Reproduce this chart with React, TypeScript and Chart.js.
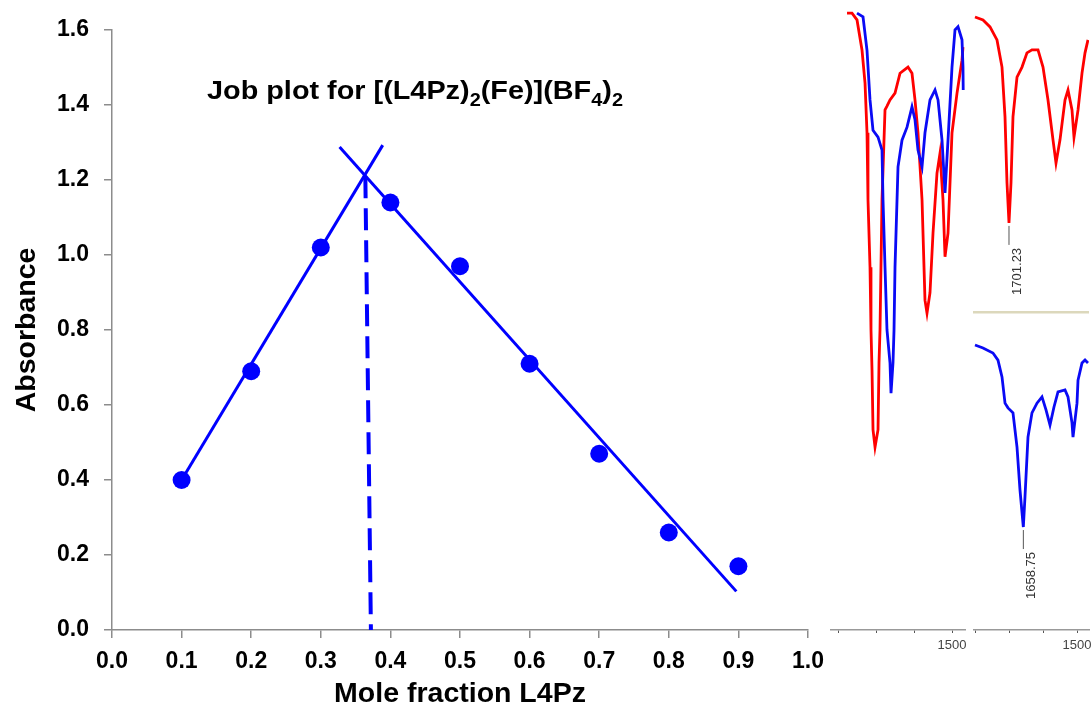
import React, { useEffect, useRef } from "react";
import { Chart, registerables } from "chart.js";

Chart.register(...registerables);

// ---------------- Job plot data ----------------
const moleFraction = [0.1, 0.2, 0.3, 0.4, 0.5, 0.6, 0.7, 0.8, 0.9];
const absorbance = [0.4, 0.69, 1.02, 1.14, 0.97, 0.71, 0.47, 0.26, 0.17];
const fitRiseX = [0.1, 0.389];
const fitRiseY = [0.4, 1.293];
const fitFallX = [0.327, 0.897];
const fitFallY = [1.288, 0.103];
const dropX = [0.364, 0.372];
const dropY = [1.21, 0.0];
const xTickValues = [0, 0.1, 0.2, 0.3, 0.4, 0.5, 0.6, 0.7, 0.8, 0.9, 1.0];
const yTickValues = [0, 0.2, 0.4, 0.6, 0.8, 1.0, 1.2, 1.4, 1.6];
const titleParts: [string, boolean][] = [
  ["Job plot for [(L4Pz)", false],
  ["2", true],
  ["(Fe)](BF", false],
  ["4", true],
  [")", false],
  ["2", true],
];
const xTitle = "Mole fraction L4Pz";
const yTitle = "Absorbance";

// ---------------- IR spectra data (wavenumber cm-1, %T) ----------------
const overlayRedWn = [1776.3, 1763.2, 1750.0, 1736.8, 1728.9, 1723.7, 1721.1, 1715.8, 1713.2, 1710.5, 1707.9, 1702.6, 1694.7, 1692.1, 1689.5, 1684.2, 1676.3, 1671.1, 1663.2, 1650.0, 1636.8, 1615.8, 1605.3, 1597.4, 1589.5, 1578.9, 1571.1, 1565.8, 1557.9, 1550.0, 1539.5, 1531.6, 1523.7, 1518.4, 1510.5, 1500.0, 1486.8, 1473.7, 1471.1];
const overlayRedT = [99.5, 99.5, 98.4, 93.5, 88.2, 80.2, 69.4, 58.5, 48.4, 41.9, 32.3, 29.5, 32.3, 43.1, 48.4, 69.4, 83.9, 84.5, 85.5, 86.6, 89.8, 90.8, 89.8, 85.5, 80.2, 69.4, 53.2, 51.1, 54.4, 64.0, 73.7, 76.9, 69.4, 60.2, 64.0, 80.2, 86.6, 91.9, 94.0];
const overlayBlueWn = [1750.0, 1734.2, 1723.7, 1715.8, 1707.9, 1694.7, 1684.2, 1681.6, 1676.3, 1671.1, 1663.2, 1660.5, 1655.3, 1652.6, 1650.0, 1642.1, 1631.6, 1618.4, 1605.3, 1597.4, 1589.5, 1578.9, 1571.1, 1557.9, 1544.7, 1536.8, 1526.3, 1518.4, 1510.5, 1500.0, 1492.1, 1484.2, 1473.7, 1471.1, 1470.5];
const overlayBlueT = [99.5, 98.9, 93.5, 85.5, 80.6, 79.5, 77.4, 69.4, 58.5, 48.4, 43.1, 38.2, 43.1, 48.4, 58.5, 74.7, 79.0, 81.1, 84.4, 82.3, 77.4, 74.7, 80.2, 85.5, 87.1, 85.5, 79.0, 70.5, 79.0, 90.8, 96.8, 97.3, 95.2, 90.8, 87.1];
const ligandWn = [1801.8, 1778.1, 1757.4, 1736.7, 1721.9, 1713.0, 1707.1, 1701.2, 1695.3, 1689.4, 1677.5, 1662.7, 1648.0, 1633.2, 1615.4, 1600.6, 1585.8, 1571.0, 1562.1, 1550.3, 1535.5, 1526.6, 1514.8, 1508.9, 1497.0, 1485.2, 1476.3, 1467.5];
const ligandT = [97.7, 96.7, 94.4, 90.1, 81.1, 64.6, 42.7, 29.5, 42.7, 64.6, 77.8, 81.1, 85.8, 86.8, 86.8, 81.1, 70.2, 57.0, 49.3, 57.0, 70.2, 73.5, 66.9, 57.9, 66.9, 79.1, 85.8, 90.1];
const complexWn = [1801.8, 1778.1, 1748.6, 1733.8, 1721.9, 1713.0, 1704.2, 1689.4, 1677.5, 1668.7, 1658.8, 1653.9, 1645.0, 1633.2, 1618.4, 1603.6, 1591.7, 1579.9, 1568.1, 1556.2, 1535.5, 1526.6, 1514.8, 1511.8, 1500.0, 1497.0, 1485.2, 1476.3, 1467.5];
const complexT = [96.6, 95.6, 93.9, 91.5, 85.8, 76.9, 75.3, 73.6, 62.0, 47.5, 34.9, 45.1, 65.4, 73.6, 76.9, 79.0, 74.6, 69.5, 75.6, 80.7, 81.4, 79.0, 70.2, 65.4, 76.9, 84.7, 90.5, 91.5, 90.5];
const spectrumTicks = [1800, 1700, 1600, 1500];
const peakWn = [1701.23, 1658.75];
const peakText = ["1701.23", "1658.75"];

const FONT = "'Liberation Sans', Arial, Helvetica, sans-serif";
const BLUE = "#0000FF";
const RED = "#FF0000";
const SBLUE = "#0A0AF5";
const AXIS_GRAY = "#8C8C8C";

const pts = (xs: number[], ys: number[]) => xs.map((x, i) => ({ x, y: ys[i] }));

const jobTextPlugin = {
  id: "jobText",
  afterDraw(chart: any) {
    const ctx = chart.ctx;
    const a = chart.chartArea;
    ctx.save();
    ctx.fillStyle = "#000";
    ctx.textBaseline = "alphabetic";
    ctx.textAlign = "left";
    // title with subscripts, fitted to its width in the source
    const mainFont = `bold 26px ${FONT}`;
    const subFont = `bold 18px ${FONT}`;
    let total = 0;
    for (const [txt, sub] of titleParts) {
      ctx.font = sub ? subFont : mainFont;
      total += ctx.measureText(txt).width;
    }
    const sx = 416 / total;
    const base = a.top + 68.5;
    ctx.save();
    ctx.translate(a.left + 95, base);
    ctx.scale(sx, 1);
    let x = 0;
    for (const [txt, sub] of titleParts) {
      ctx.font = sub ? subFont : mainFont;
      ctx.fillText(txt, x, sub ? 7 : 0);
      x += ctx.measureText(txt).width;
    }
    ctx.restore();
    ctx.font = `bold 28.5px ${FONT}`;
    ctx.textAlign = "center";
    ctx.fillText(xTitle, (a.left + a.right) / 2, chart.height - 11);
    ctx.translate(35, (a.top + a.bottom) / 2);
    ctx.rotate(-Math.PI / 2);
    ctx.fillText(yTitle, 0, 0);
    ctx.restore();
  },
};

function jobConfig(): any {
  const tickFont = { family: FONT, size: 23, weight: "bold" as const };
  return {
    type: "scatter",
    data: {
      datasets: [
        {
          data: pts(moleFraction, absorbance),
          showLine: false,
          pointRadius: 9,
          pointBackgroundColor: BLUE,
          pointBorderWidth: 0,
          pointBorderColor: BLUE,
        },
        {
          data: pts(fitRiseX, fitRiseY),
          showLine: true,
          borderColor: BLUE,
          borderWidth: 3,
          pointRadius: 0,
        },
        {
          data: pts(fitFallX, fitFallY),
          showLine: true,
          borderColor: BLUE,
          borderWidth: 3,
          pointRadius: 0,
        },
        {
          data: pts(dropX, dropY),
          showLine: true,
          borderColor: BLUE,
          borderWidth: 4,
          borderDash: [22, 10],
          pointRadius: 0,
        },
      ],
    },
    options: {
      responsive: false,
      animation: false,
      layout: { padding: { top: 30, right: 22, left: 0, bottom: 0 } },
      plugins: {
        legend: { display: false },
        tooltip: { enabled: false },
        title: { display: false },
      },
      scales: {
        x: {
          type: "linear",
          min: 0,
          max: 1,
          afterBuildTicks: (s: any) => {
            s.ticks = xTickValues.map((value) => ({ value }));
          },
          afterFit: (s: any) => {
            s.height = 83;
            s.paddingLeft = 0;
            s.paddingRight = 0;
          },
          grid: { drawOnChartArea: false, drawTicks: true, tickLength: 8, color: AXIS_GRAY, lineWidth: 1.5 },
          border: { display: true, color: AXIS_GRAY, width: 1.5 },
          ticks: {
            font: tickFont,
            color: "#000",
            padding: 10,
            maxRotation: 0,
            autoSkip: false,
            callback: (v: any) => Number(v).toFixed(1),
          },
        },
        y: {
          type: "linear",
          min: 0,
          max: 1.6,
          afterBuildTicks: (s: any) => {
            s.ticks = yTickValues.map((value) => ({ value }));
          },
          afterFit: (s: any) => {
            s.width = 112;
            s.paddingTop = 0;
            s.paddingBottom = 0;
          },
          grid: { drawOnChartArea: false, drawTicks: true, tickLength: 8, color: AXIS_GRAY, lineWidth: 1.5 },
          border: { display: true, color: AXIS_GRAY, width: 1.5 },
          ticks: {
            font: tickFont,
            color: "#000",
            padding: 15,
            autoSkip: false,
            callback: (v: any) => Number(v).toFixed(1),
          },
        },
      },
    },
    plugins: [jobTextPlugin],
  };
}

type Series = { wn: number[]; t: number[]; color: string };

const peakPlugin = {
  id: "peakLabel",
  afterDatasetsDraw(chart: any, _args: any, opts: any) {
    if (!opts || opts.wn == null) return;
    const ctx = chart.ctx;
    const px = chart.scales.x.getPixelForValue(opts.wn);
    const py = chart.scales.y.getPixelForValue(opts.t);
    ctx.save();
    ctx.strokeStyle = "#555";
    ctx.lineWidth = 1;
    ctx.beginPath();
    ctx.moveTo(px, py + 3);
    ctx.lineTo(px, py + 22);
    ctx.stroke();
    ctx.translate(px + 8, py + 25);
    ctx.rotate(-Math.PI / 2);
    ctx.font = `13px ${FONT}`;
    ctx.fillStyle = "#333";
    ctx.textAlign = "right";
    ctx.textBaseline = "middle";
    ctx.fillText(opts.text, 0, 0);
    ctx.restore();
  },
};

function spectrumConfig(
  series: Series[],
  wnMax: number,
  wnMin: number,
  padTop: number,
  padRight: number,
  axisH: number,
  mode: "ticks" | "beige",
  peak?: { wn: number; t: number; text: string }
): any {
  const xScale: any = {
    type: "linear",
    reverse: true,
    min: wnMin,
    max: wnMax,
    afterFit: (s: any) => {
      s.height = axisH;
      s.paddingLeft = 0;
      s.paddingRight = 0;
    },
  };
  if (mode === "ticks") {
    Object.assign(xScale, {
      afterBuildTicks: (s: any) => {
        s.ticks = spectrumTicks.filter((v) => v >= wnMin && v <= wnMax).map((value) => ({ value }));
      },
      grid: { drawOnChartArea: false, drawTicks: true, tickLength: 3, color: "#555", lineWidth: 1 },
      border: { display: true, color: "#999", width: 1.5 },
      ticks: {
        font: { family: FONT, size: 13 },
        color: "#444",
        padding: 5,
        maxRotation: 0,
        autoSkip: false,
        callback: (v: any) => (Number(v) === 1500 ? "1500" : ""),
      },
    });
  } else {
    Object.assign(xScale, {
      grid: { drawOnChartArea: false, drawTicks: false },
      border: { display: true, color: "#DCD8BC", width: 2.5 },
      ticks: { display: false },
    });
  }
  return {
    type: "scatter",
    data: {
      datasets: series.map((s) => ({
        data: pts(s.wn, s.t),
        showLine: true,
        borderColor: s.color,
        borderWidth: 2.8,
        pointRadius: 0,
        tension: 0,
      })),
    },
    options: {
      responsive: false,
      animation: false,
      layout: { padding: { top: padTop, left: 0, right: padRight, bottom: 0 } },
      plugins: {
        legend: { display: false },
        tooltip: { enabled: false },
        title: { display: false },
        peakLabel: peak || {},
      },
      scales: {
        x: xScale,
        y: { type: "linear", display: false, min: 0, max: 100 },
      },
    },
    plugins: [peakPlugin],
  };
}

function ChartCanvas(props: { make: () => any; w: number; h: number; left: number; top: number }) {
  const ref = useRef<HTMLCanvasElement>(null);
  useEffect(() => {
    const chart = new Chart(ref.current as HTMLCanvasElement, props.make());
    return () => chart.destroy();
  }, []);
  return (
    <canvas
      ref={ref}
      width={props.w}
      height={props.h}
      style={{ position: "absolute", left: props.left, top: props.top, width: props.w, height: props.h }}
    />
  );
}

const minOf = (a: number[]) => Math.min(...a);

export default function App() {
  return (
    <div style={{ position: "absolute", left: 0, top: 0, width: 1092, height: 713, background: "#fff", overflow: "hidden" }}>
      <ChartCanvas make={jobConfig} w={830} h={713} left={0} top={0} />
      <ChartCanvas
        make={() =>
          spectrumConfig(
            [
              { wn: overlayBlueWn, t: overlayBlueT, color: SBLUE },
              { wn: overlayRedWn, t: overlayRedT, color: RED },
            ],
            1821.1,
            1465.8,
            10,
            4,
            30,
            "ticks"
          )
        }
        w={139}
        h={660}
        left={830}
        top={0}
      />
      <ChartCanvas
        make={() =>
          spectrumConfig([{ wn: ligandWn, t: ligandT, color: RED }], 1807.7, 1464.5, 10, 0, 8, "beige", {
            wn: peakWn[0],
            t: minOf(ligandT),
            text: peakText[0],
          })
        }
        w={116}
        h={320}
        left={973}
        top={0}
      />
      <ChartCanvas
        make={() =>
          spectrumConfig([{ wn: complexWn, t: complexT, color: SBLUE }], 1807.7, 1464.5, 5, 3, 30, "ticks", {
            wn: peakWn[1],
            t: minOf(complexT),
            text: peakText[1],
          })
        }
        w={119}
        h={330}
        left={973}
        top={330}
      />
    </div>
  );
}
